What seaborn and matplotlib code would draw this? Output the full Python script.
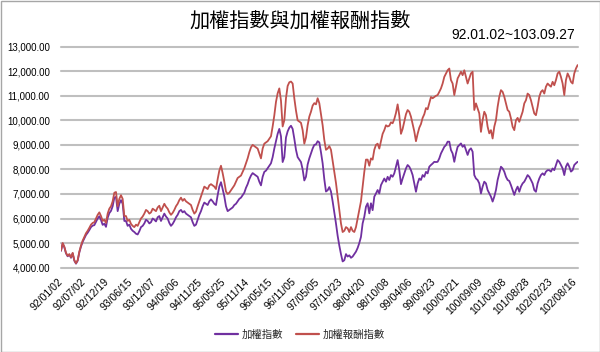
import numpy as np
import pandas as pd
import matplotlib
matplotlib.use("Agg")
import matplotlib.pyplot as plt
from matplotlib.patches import Rectangle
from matplotlib.lines import Line2D
from matplotlib.ticker import FuncFormatter
import seaborn as sns

TITLE = "加權指數與加權報酬指數"
SUBTITLE = "92.01.02~103.09.27"
SERIES_NAMES = ["加權指數", "加權報酬指數"]

TICK_LABELS = ["92/01/02", "92/07/02", "92/12/19", "93/06/15", "93/12/07", "94/06/06",
               "94/11/25", "95/05/25", "95/11/14", "96/05/15", "96/11/05", "97/05/05",
               "97/10/23", "98/04/20", "98/10/08", "99/04/06", "99/09/23", "100/03/21",
               "100/09/09", "101/03/08", "101/08/28", "102/02/23", "102/08/16"]

# 加權指數 (sampled about every 8.6 trading days)
taiex = [
    # 92/01 - 93/08
    4680, 4980, 4830, 4580, 4460, 4530, 4400, 4580, 4280, 4160, 4280, 4620, 4860, 5050, 5190,
    5330, 5420, 5530, 5650, 5710, 5730, 5870, 6000, 6090, 5940, 5740, 5790, 5660, 6030, 6220,
    6310, 6500, 6850, 6880, 6300, 6600, 6750, 6600, 5900, 5900, 5700, 5750, 5580, 5500, 5450,
    # 93/08 - 95/02
    5380, 5350, 5480, 5650, 5700, 5800, 5950, 5900, 5800, 5850, 6000, 5950, 5880, 6050, 6100,
    5900, 6050, 6200, 6080, 6000, 5820, 5700, 5780, 5900, 6050, 6150, 6300, 6350, 6250, 6300,
    6200, 6150, 6100, 6050, 5850, 5700, 5750, 5950, 6150, 6300, 6500, 6650, 6600, 6550, 6700,
    # 95/02 - 96/08
    6780, 6700, 6600, 6550, 6950, 7300, 7480, 7200, 6900, 6500, 6300, 6350, 6400, 6450, 6550,
    6600, 6700, 6800, 6850, 6950, 7050, 7250, 7400, 7600, 7750, 7850, 7800, 7750, 7700, 7500,
    7350, 7700, 7900, 7950, 8050, 8150, 8250, 8500, 8850, 9150, 9450, 9650, 9350, 8300, 8500,
    # 96/08 - 98/02
    9300, 9550, 9700, 9780, 9650, 9250, 8800, 8500, 8400, 8300, 8000, 7550, 7700, 8200, 8450,
    8650, 8850, 9000, 9020, 9150, 9100, 8700, 8250, 7600, 7100, 7150, 7280, 7100, 6700, 6250,
    5800, 5300, 4900, 4550, 4250, 4300, 4550, 4450, 4500, 4400, 4450, 4550, 4650, 4800, 5000,
    # 98/02 - 99/08
    5250, 5800, 6070, 6480, 6620, 6210, 6620, 6340, 6890, 7020, 7160, 7020, 7360, 7500, 7630,
    7500, 7700, 7570, 7770, 7700, 7840, 8110, 8380, 7970, 7400, 7630, 7840, 8040, 8180, 8110,
    7970, 7770, 7430, 7090, 7430, 7630, 7570, 7770, 7700, 7900, 7840, 8110, 8180, 8240, 8310,
    # 99/08 - 101/02
    8300, 8310, 8450, 8650, 8790, 8920, 8990, 9130, 9130, 8790, 8650, 8310, 8650, 8920, 8990,
    9060, 8920, 8990, 8790, 8590, 8790, 8860, 8720, 7770, 7630, 7570, 7430, 7020, 7300, 7500,
    7430, 7160, 7020, 6890, 6690, 6890, 7160, 7570, 7840, 8110, 8040, 7910, 7700, 7570, 7530,
    # 101/02 - 102/09
    7360, 7160, 6960, 7160, 7300, 7090, 7300, 7430, 7500, 7630, 7770, 7700, 7570, 7430, 7160,
    7090, 7430, 7630, 7770, 7840, 7770, 7910, 7970, 7970, 7910, 8040, 7970, 8180, 8380, 8310,
    8180, 8040, 7770, 8110, 8250, 8110, 7910, 7970, 8180, 8250, 8310,
]

# 加權報酬指數
total_return = [
    # 92/01 - 93/08
    4700, 5000, 4850, 4600, 4480, 4550, 4420, 4600, 4300, 4180, 4300, 4650, 4900, 5100, 5250,
    5400, 5500, 5620, 5750, 5820, 5850, 6000, 6150, 6250, 6100, 5900, 5950, 5820, 6200, 6400,
    6500, 6700, 7050, 7080, 6500, 6800, 6950, 6800, 6100, 6100, 5900, 5950, 5780, 5700, 5650,
    # 93/08 - 95/02
    5750, 5700, 5850, 6000, 6080, 6200, 6350, 6300, 6200, 6250, 6400, 6350, 6300, 6450, 6520,
    6300, 6450, 6600, 6480, 6400, 6250, 6150, 6230, 6350, 6500, 6600, 6750, 6850, 6720, 6800,
    6700, 6650, 6600, 6550, 6350, 6200, 6280, 6500, 6700, 6900, 7100, 7300, 7250, 7200, 7350,
    # 95/02 - 96/08
    7400, 7350, 7300, 7200, 7600, 7950, 8150, 7850, 7500, 7100, 7000, 7050, 7150, 7250, 7350,
    7500, 7650, 7700, 7750, 7900, 8050, 8250, 8450, 8700, 8900, 9000, 8950, 8900, 8850, 8650,
    8450, 8850, 9050, 9100, 9150, 9250, 9350, 9750, 10200, 10750, 11100, 11300, 10800, 9750, 10000,
    # 96/08 - 98/02
    10900, 11400, 11550, 11580, 11500, 10900, 10400, 10000, 9950, 9900, 9600, 9050, 9300, 9800, 10150,
    10350, 10600, 10700, 10650, 10900, 10700, 10250, 9800, 9200, 8800, 8850, 8950, 8800, 8350, 7900,
    7450, 6900, 6350, 5800, 5450, 5500, 5650, 5600, 5450, 5650, 5500, 5450, 5650, 6000, 6350,
    # 98/02 - 99/08
    6700, 7300, 7900, 8400, 8400, 8150, 8450, 8400, 8800, 9000, 9050, 8850, 9150, 9450, 9600,
    9800, 9750, 9780, 9920, 9880, 10050, 10300, 10650, 10200, 9450, 9650, 9950, 10250, 10420, 10350,
    10150, 9850, 9550, 9150, 9450, 9700, 9850, 10100, 10250, 10500, 10450, 10700, 10950, 10900, 10950,
    # 99/08 - 101/02
    11000, 11030, 11160, 11300, 11500, 11770, 11910, 12040, 12110, 11640, 11500, 11030, 11370, 11710, 11840,
    11980, 11840, 12040, 11770, 11500, 11710, 11910, 11980, 10420, 10690, 10490, 10280, 9530, 10010, 10350,
    10210, 9740, 9470, 9600, 9260, 9740, 10010, 10550, 10960, 11230, 11160, 10960, 10690, 10420, 10350,
    # 101/02 - 102/09
    10080, 9740, 9600, 10000, 10100, 9940, 10150, 10350, 10690, 10820, 11090, 11030, 10820, 10550, 10280,
    10210, 10550, 10960, 11160, 11230, 11090, 11370, 11500, 11430, 11370, 11570, 11430, 11640, 11910, 11980,
    11770, 11500, 11030, 11640, 11910, 11770, 11570, 11500, 11910, 12110, 12250,
]

TOTAL_DAYS = 2655     # trading days shown on the axis
LABEL_EVERY = 120     # trading days between axis labels

n = len(taiex)
days = np.linspace(0, TOTAL_DAYS, n)
df = pd.DataFrame({
    "day": np.concatenate([days, days]),
    "value": taiex + total_return,
    "series": [SERIES_NAMES[0]] * n + [SERIES_NAMES[1]] * len(total_return),
})

sns.set_theme(style="white")
plt.rcParams["font.family"] = ["Liberation Sans", "Noto Sans CJK TC", "DejaVu Sans"]

fig = plt.figure(figsize=(6.0, 3.52), dpi=100)
ax = fig.add_axes([61 / 600, 1 - 267.6 / 352, 517 / 600, (267.6 - 46.7) / 352])

palette = {SERIES_NAMES[0]: "#7030A0", SERIES_NAMES[1]: "#C0504D"}
sns.lineplot(data=df, x="day", y="value", hue="series", palette=palette,
             linewidth=1.3, ax=ax, legend=False, estimator=None, sort=False)

ax.set_xlim(0, TOTAL_DAYS + 2)
ax.set_ylim(4000, 13000)
ax.set_yticks(np.arange(4000, 13001, 1000))
ax.yaxis.set_major_formatter(FuncFormatter(lambda v, p: f"{v:,.2f}"))
ax.set_xticks(np.arange(len(TICK_LABELS)) * LABEL_EVERY)
ax.set_xticklabels(TICK_LABELS, rotation=45, ha="right", va="center", rotation_mode="anchor")
ax.tick_params(axis="x", length=0, pad=9, labelsize=7.5, colors="#000000")
ax.tick_params(axis="y", length=0, pad=8, labelsize=7, colors="#000000")
ax.set_xlabel("")
ax.set_ylabel("")
for s in ax.spines.values():
    s.set_visible(False)
ax.yaxis.grid(True, color="#BFBFBF", linewidth=1.5)
ax.xaxis.grid(False)
ax.set_axisbelow(True)
for gl in ax.get_ygridlines():
    gl.set_clip_on(False)

fig.text(300 / 600, 1 - 22 / 352, TITLE, ha="center", va="center", fontsize=14.5,
         family=["Noto Sans CJK TC"], color="#000000")
fig.text(575 / 600, 1 - 35 / 352, SUBTITLE, ha="right", va="center", fontsize=10,
         family=["Liberation Sans", "DejaVu Sans"], color="#000000")

handles = [Line2D([0], [0], color=palette[s], lw=1.6) for s in SERIES_NAMES]
fig.legend(handles, SERIES_NAMES, loc="center", bbox_to_anchor=(0.5, 1 - 335 / 352),
           ncol=2, frameon=False, handlelength=2.2, handletextpad=0.3,
           columnspacing=1.3, prop={"family": ["Noto Sans CJK TC"], "size": 7.5})

fig.patches.append(Rectangle((0.5 / 600, 0.5 / 352), 599 / 600, 351 / 352, transform=fig.transFigure,
                             fill=False, edgecolor="#A6A6A6", linewidth=1.0))

fig.savefig("out.png", dpi=100)
